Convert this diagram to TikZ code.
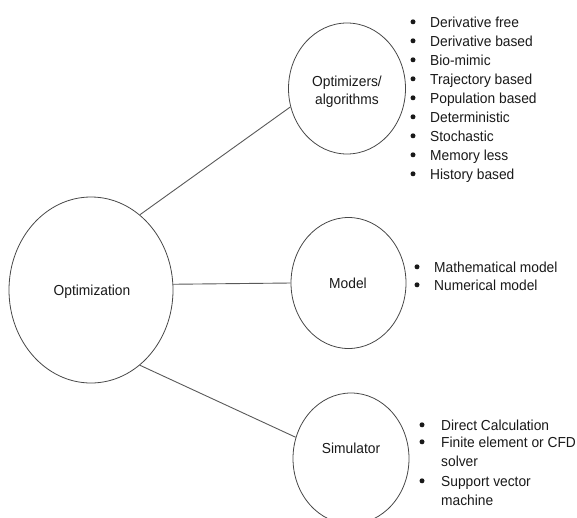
\documentclass[tikz,border=0pt]{standalone}
\usepackage{fontspec}
\setmainfont{Liberation Sans}[FakeStretch=0.95]
\usetikzlibrary{shapes.geometric}
\tikzset{
  circ/.style={ellipse, draw=black!72, line width=0.8pt, inner sep=0pt},
  conn/.style={draw=black!65, line width=0.9pt},
  lbl/.style={anchor=base, inner sep=0pt, font=\fontsize{14.5}{18}\selectfont, text=black!90},
  itm/.style={anchor=base west, inner sep=0pt, font=\fontsize{14.5}{18}\selectfont, text=black!90},
  bul/.style={fill=black!90},
}
\begin{document}
\begin{tikzpicture}[x=1pt,y=-1pt]
\useasboundingbox (0,0) rectangle (577,517);
% ellipses
\node[circ, minimum width=164pt, minimum height=186pt] (opt) at (91,290) {};
\node[circ, minimum width=117pt, minimum height=131pt] (alg) at (347,88.5) {};
\node[circ, minimum width=115pt, minimum height=131pt] (mod) at (348.5,283) {};
\node[circ, minimum width=116pt, minimum height=131pt] (sim) at (351,458.5) {};
% labels
\node[lbl] (optt) at (92,295) {Optimization};
\node[lbl] (algt1) at (347,86) {Optimizers/};
\node[lbl] (algt2) at (347,104) {algorithms};
\node[lbl] (modt) at (348,288) {Model};
\node[lbl] (simt) at (351,453) {Simulator};
% connectors
\draw[conn] (opt.57) -- (alg.198);
\draw[conn] (opt.4.8) -- (mod.180);
\draw[conn] (opt.-57) -- (sim.159.5);
% optimizer list
\foreach \t [count=\i] in {Derivative free, Derivative based, Bio-mimic, Trajectory based, Population based, Deterministic, Stochastic, Memory less, History based}{
  \node[itm] (a\i) at (430, {27+19*(\i-1)}) {\t};
  \fill[bul] ([xshift=-17pt,yshift=5.2pt]a\i.base west) circle (2.5pt);
}
% model list
\node[itm] (m1) at (434,272) {Mathematical model};
\node[itm] (m2) at (434,290) {Numerical model};
\foreach \n in {m1,m2}
  \fill[bul] ([xshift=-17pt,yshift=5.2pt]\n.base west) circle (2.5pt);
% simulator list
\node[itm] (s1) at (441,430) {Direct Calculation};
\node[itm] (s2) at (441,447) {Finite element or CFD};
\node[itm] (s3) at (441,466) {solver};
\node[itm] (s4) at (441,486) {Support vector};
\node[itm] (s5) at (441,505) {machine};
\foreach \n in {s1,s2,s4}
  \fill[bul] ([xshift=-19pt,yshift=5.2pt]\n.base west) circle (2.5pt);
\end{tikzpicture}
\end{document}
